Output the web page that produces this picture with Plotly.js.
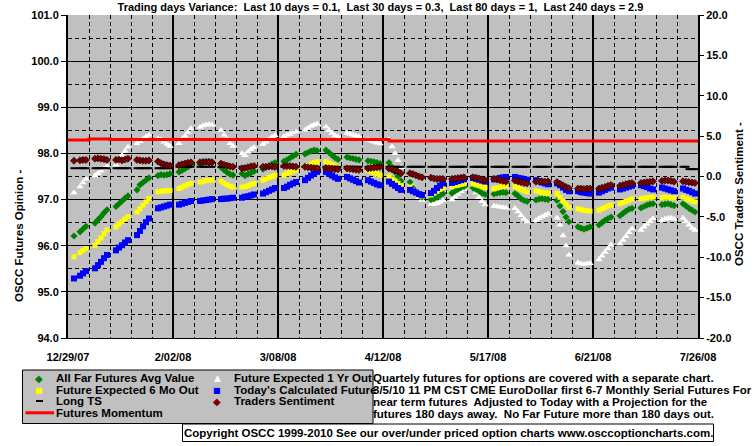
<!DOCTYPE html>
<html><head><meta charset="utf-8">
<script src="https://cdn.plot.ly/plotly-3.0.1.min.js"></script>
<style>html,body{margin:0;padding:0;background:#fff;}#chart{width:755px;height:446px;}</style>
</head><body><div id="chart"></div>
<script>
// ---------- DATA (one value per trading day, Mon..Fri, 30 weeks from 12/31/07) ----------
const firstMonday = '2007-12-31';
const weeks = 30;

const allFarAvg = [
 96.21,null,96.30,96.36,96.42,
 96.49,96.56,96.63,96.71,96.78,
 96.85,96.91,96.97,97.03,97.08,
 97.21,97.32,97.37,97.42,97.47,
 97.52,97.54,97.53,97.54,97.56,
 97.60,97.63,97.67,97.71,97.75,
 97.77,97.80,97.82,97.83,97.81,
 97.70,97.64,97.59,97.55,97.53,
 97.56,97.52,97.55,97.58,97.61,
 97.66,97.70,97.73,97.77,97.80,
 97.83,97.86,97.90,97.94,97.98,
 97.99,98.02,98.05,98.07,98.06,
 98.07,98.02,97.96,97.91,97.87,
 97.92,97.90,97.89,97.87,97.86,
 97.84,97.83,97.82,97.80,97.78,
 97.80,97.70,97.60,97.50,97.40,
 97.38,97.25,97.16,97.10,97.05,
 97.00,97.02,97.05,97.09,97.13,
 97.14,97.18,97.22,97.26,97.28,
 97.25,97.22,97.18,97.14,97.11,
 97.12,97.14,97.15,97.16,97.15,
 97.13,97.08,97.02,96.98,96.96,
 96.99,97.01,97.02,97.01,97.00,
 96.98,96.86,96.74,96.62,96.52,
 96.41,96.38,96.36,96.38,96.41,
 96.45,96.50,96.55,96.59,96.62,
 96.65,96.70,96.75,96.79,96.81,
 96.82,96.85,96.88,96.90,96.91,
 96.89,96.90,96.91,96.89,96.87,
 96.91,96.86,96.81,96.77,96.73
];
const expected6Mo = [
 95.76,null,95.85,95.90,95.94,
 96.01,96.09,96.17,96.26,96.34,
 96.41,96.47,96.52,96.58,96.63,
 96.73,96.80,96.88,96.95,97.02,
 97.17,97.18,97.19,97.19,97.20,
 97.24,97.27,97.30,97.33,97.35,
 97.38,97.39,97.41,97.42,97.42,
 97.40,97.36,97.32,97.29,97.27,
 97.27,97.28,97.30,97.33,97.35,
 97.42,97.45,97.48,97.50,97.53,
 97.53,97.56,97.59,97.62,97.64,
 97.71,97.74,97.77,97.80,97.82,
 97.82,97.79,97.76,97.73,97.70,
 97.67,97.66,97.65,97.65,97.64,
 97.64,97.61,97.58,97.55,97.53,
 97.50,97.45,97.40,97.35,97.30,
 97.27,97.20,97.14,97.10,97.08,
 97.10,97.14,97.18,97.22,97.25,
 97.28,97.30,97.31,97.33,97.34,
 97.34,97.32,97.30,97.28,97.26,
 97.23,97.25,97.27,97.28,97.29,
 97.28,97.25,97.22,97.19,97.17,
 97.19,97.17,97.15,97.14,97.14,
 97.13,97.05,96.97,96.90,96.83,
 96.80,96.78,96.77,96.76,96.75,
 96.77,96.80,96.83,96.86,96.88,
 96.91,96.94,96.96,96.99,97.01,
 97.02,97.03,97.04,97.05,97.05,
 97.04,97.05,97.05,97.04,97.04,
 97.05,97.02,97.00,96.97,96.95
];
const expected1Yr = [
 97.15,null,97.28,97.37,97.45,
 97.52,97.57,97.62,97.67,97.72,
 97.75,97.85,97.96,98.05,98.14,
 98.22,98.26,98.31,98.36,98.40,
 98.32,98.30,98.25,98.20,98.16,
 98.22,98.30,98.38,98.46,98.54,
 98.57,98.60,98.62,98.63,98.62,
 98.50,98.40,98.30,98.22,98.16,
 98.00,97.96,98.03,98.09,98.13,
 98.20,98.25,98.30,98.35,98.39,
 98.37,98.40,98.42,98.45,98.47,
 98.51,98.55,98.59,98.62,98.64,
 98.58,98.50,98.44,98.39,98.36,
 98.44,98.42,98.40,98.38,98.36,
 98.29,98.27,98.25,98.23,98.21,
 98.30,98.15,98.00,97.85,97.70,
 97.40,97.28,97.15,97.05,96.99,
 96.90,96.90,96.92,96.95,96.98,
 97.00,97.06,97.12,97.18,97.22,
 97.24,97.15,97.05,96.96,96.89,
 96.86,96.85,96.84,96.83,96.82,
 96.81,96.74,96.66,96.58,96.52,
 96.55,96.59,96.63,96.66,96.69,
 96.60,96.45,96.22,96.00,95.80,
 95.63,95.61,95.60,95.61,95.62,
 95.70,95.78,95.86,95.94,96.02,
 96.04,96.12,96.20,96.29,96.37,
 96.34,96.41,96.47,96.53,96.59,
 96.55,96.58,96.60,96.60,96.58,
 96.60,96.52,96.45,96.38,96.34
];
const todaysCalc = [
 95.29,null,95.35,95.40,95.45,
 95.51,95.58,95.65,95.73,95.80,
 95.90,95.96,96.01,96.07,96.12,
 96.23,96.32,96.42,96.51,96.59,
 96.81,96.83,96.85,96.87,96.89,
 96.89,96.91,96.93,96.95,96.97,
 96.97,96.98,96.99,97.00,97.01,
 97.01,97.02,97.02,97.03,97.04,
 97.04,97.06,97.07,97.09,97.11,
 97.13,97.16,97.19,97.22,97.25,
 97.25,97.28,97.32,97.35,97.38,
 97.42,97.47,97.52,97.56,97.60,
 97.60,97.56,97.52,97.48,97.45,
 97.49,97.46,97.43,97.40,97.37,
 97.42,97.39,97.36,97.33,97.31,
 97.39,97.34,97.30,97.25,97.21,
 97.21,97.18,97.15,97.12,97.10,
 97.14,97.19,97.25,97.30,97.35,
 97.36,97.38,97.40,97.42,97.44,
 97.47,97.45,97.43,97.41,97.39,
 97.44,97.45,97.47,97.48,97.49,
 97.49,97.47,97.46,97.44,97.43,
 97.42,97.40,97.37,97.35,97.33,
 97.35,97.31,97.26,97.21,97.18,
 97.18,97.16,97.15,97.14,97.13,
 97.15,97.18,97.21,97.24,97.26,
 97.22,97.24,97.26,97.28,97.30,
 97.31,97.29,97.27,97.24,97.22,
 97.26,97.24,97.22,97.20,97.18,
 97.24,97.21,97.19,97.16,97.13
];
const longTS = [
 97.68,null,97.68,97.68,97.68,
 97.68,97.68,97.68,97.68,97.68,
 97.68,97.68,97.68,97.68,97.68,
 97.68,97.68,97.68,97.68,97.68,
 97.68,97.68,97.68,97.68,97.68,
 97.71,97.71,97.71,97.71,97.71,
 97.71,97.71,97.71,97.71,97.71,
 97.71,97.71,97.71,97.71,97.71,
 97.71,97.71,97.71,97.71,97.71,
 97.71,97.71,97.71,97.71,97.71,
 97.71,97.71,97.71,97.71,97.71,
 97.71,97.71,97.71,97.71,97.71,
 97.71,97.71,97.71,97.71,97.71,
 97.71,97.71,97.71,97.71,97.71,
 97.71,97.71,97.71,97.71,97.71,
 97.71,97.71,97.71,97.71,97.71,
 97.71,97.71,97.71,97.71,97.71,
 97.71,97.71,97.71,97.71,97.71,
 97.71,97.71,97.71,97.71,97.71,
 97.71,97.71,97.71,97.71,97.71,
 97.71,97.71,97.71,97.71,97.71,
 97.71,97.71,97.71,97.71,97.71,
 97.71,97.71,97.71,97.71,97.71,
 97.71,97.71,97.71,97.71,97.71,
 97.71,97.71,97.71,97.71,97.71,
 97.71,97.71,97.71,97.71,97.71,
 97.71,97.71,97.71,97.71,97.71,
 97.71,97.71,97.71,97.71,97.71,
 97.71,97.71,97.71,97.71,97.71,
 97.71,97.71,97.66,97.66,97.66
];
const tradersSentiment = [
 1.95,null,2.00,2.05,2.05,
 2.20,2.25,2.20,2.15,2.05,
 2.05,2.10,2.00,2.10,2.20,
 2.05,2.00,1.95,1.95,2.00,
 1.85,1.65,1.50,1.40,1.35,
 1.40,1.50,1.60,1.70,1.75,
 1.75,1.80,1.80,1.75,1.75,
 1.60,1.45,1.35,1.25,1.20,
 1.00,1.05,1.15,1.25,1.30,
 1.20,1.20,1.25,1.25,1.20,
 1.30,1.30,1.30,1.25,1.20,
 1.20,1.15,1.10,1.05,1.00,
 1.05,1.00,0.95,0.90,0.90,
 1.00,0.95,0.90,0.85,0.80,
 1.00,1.05,1.10,1.15,1.20,
 1.00,0.90,0.75,0.60,0.40,
 0.40,0.30,0.15,0.00,-0.10,
 -0.15,-0.25,-0.30,-0.30,-0.30,
 -0.30,-0.25,-0.20,-0.15,-0.10,
 -0.10,-0.15,-0.25,-0.35,-0.45,
 -0.30,-0.35,-0.45,-0.55,-0.65,
 -0.50,-0.60,-0.70,-0.80,-0.85,
 -0.65,-0.60,-0.60,-0.65,-0.60,
 -0.70,-0.90,-1.10,-1.30,-1.45,
 -1.50,-1.50,-1.55,-1.50,-1.50,
 -1.50,-1.40,-1.30,-1.15,-1.05,
 -1.15,-1.05,-0.95,-0.85,-0.80,
 -0.80,-0.75,-0.70,-0.65,-0.60,
 -0.55,-0.50,-0.50,-0.55,-0.65,
 -0.60,-0.65,-0.70,-0.75,-0.80
];
const momentumDates = ['2007-12-29','2008-01-05','2008-01-12','2008-04-14','2008-07-26'];
const momentumValues = [98.29, 98.31, 98.30, 98.27, 98.27];

const xTickStart = '2007-12-29';
const leftRange = [94, 101];
const rightTickVals = [-20,-15,-10,-5,0,5,10,15,20];
const rightTickText = ['-20.0','-15.0','-10.0','-5.0','0.0','5.0','10.0','15.0','20.0'];

const titleText = 'Trading days Variance:\u00a0 Last 10 days = 0.1,\u00a0 Last 30 days = 0.3,\u00a0 Last 80 days = 1,\u00a0 Last 240 days = 2.9';
const leftAxisTitle = 'OSCC Futures Opinion -';
const rightAxisTitle = 'OSCC Traders Sentiment -';
const noteLines = [
 'Quartely futures for options are covered with a separate chart.',
 '3/5/10 11 PM CST CME EuroDollar first 6-7 Monthly Serial Futures For',
 'near term futures\u00a0 Adjusted to Today with a Projection for the',
 'futures 180 days away.\u00a0 No Far Future more than 180 days out.'
];
const copyrightText = 'Copyright OSCC 1999-2010 See our over/under priced option charts www.osccoptioncharts.com.';

// ---------- trading-day dates ----------
const DAY = 86400000;
const dates = [];
{
  const d0 = Date.parse(firstMonday + 'T00:00:00Z');
  for (let w = 0; w < weeks; w++) for (let k = 0; k < 5; k++)
    dates.push(new Date(d0 + (w * 7 + k) * DAY).toISOString().slice(0, 10));
}

// ---------- geometry helpers (pixel -> paper) ----------
const W = 755, H = 446, L = 68, R = 698, T = 15, B = 338;
const px = x => (x - L) / (R - L);
const py = y => (B - y) / (B - T);
const FONT = 'Liberation Sans, Arial, sans-serif';
const bold = (size, color) => ({family: FONT, size: size, color: color || '#000', weight: 700});

const traces = [
  {x: dates, y: expected1Yr, type: 'scatter', mode: 'markers', name: 'Future Expected 1 Yr Out',
   marker: {symbol: 'triangle-up', size: 6.5, color: '#FFFFFF'}},
  {x: dates, y: allFarAvg, type: 'scatter', mode: 'markers', name: 'All Far Futures Avg Value',
   marker: {symbol: 'diamond', size: 5.5, color: '#008000'}},
  {x: dates, y: expected6Mo, type: 'scatter', mode: 'markers', name: 'Future Expected 6 Mo Out',
   marker: {symbol: 'square', size: 5, color: '#FFFF00'}},
  {x: dates, y: todaysCalc, type: 'scatter', mode: 'markers', name: "Today's Calculated Future",
   marker: {symbol: 'square', size: 6, color: '#0000FF'}},
  {x: dates, y: longTS, type: 'scatter', mode: 'markers', name: 'Long TS',
   marker: {symbol: 'line-ew', size: 5, line: {color: '#000', width: 2}}},
  {x: dates, y: tradersSentiment, type: 'scatter', mode: 'markers', name: 'Traders Sentiment', yaxis: 'y2',
   marker: {symbol: 'diamond', size: 5.5, color: '#800000', line: {color: '#000', width: 0.6}}},
  {x: momentumDates, y: momentumValues, type: 'scatter', mode: 'lines', name: 'Futures Momentum',
   line: {color: '#FF0000', width: 3, shape: 'hv'}}
];

const ann = [];
const addText = (text, x, y, size, anchor, extra) => ann.push(Object.assign({
  text: text, xref: 'paper', yref: 'paper', x: px(x), y: py(y), xanchor: anchor || 'left', yanchor: 'middle',
  showarrow: false, borderpad: 0, font: bold(size)}, extra || {}));

addText(leftAxisTitle, 19.5, 236.5, 11.5, 'center', {textangle: -90});
addText(rightAxisTitle, 739, 194, 11.5, 'center', {textangle: -90});

// legend texts
addText('All Far Futures Avg Value', 55, 378.3, 11.5);
addText('Future Expected 6 Mo Out', 55, 390.3, 11.5);
addText('Long TS', 55, 401, 11.5);
addText('Futures Momentum', 55, 412.8, 11.5);
addText('Future Expected 1 Yr Out', 232.5, 378.3, 11.5);
addText("Today's Calculated Future", 232.5, 390.3, 11.5);
addText('Traders Sentiment', 232.5, 401, 11.5);
// legend symbols
const sym = (ch, color, x, y, size) => ann.push({text: ch, xref: 'paper', yref: 'paper', x: px(x), y: py(y),
  xanchor: 'center', yanchor: 'middle', showarrow: false, borderpad: 0,
  font: {family: 'DejaVu Sans', size: size, color: color}});
sym('\u25C6', '#008000', 39.3, 378.3, 10);
sym('\u25A0', '#FFFF00', 39.3, 390.3, 8);
sym('\u25B2', '#FFFFFF', 217.3, 377.8, 9);
sym('\u25A0', '#0000FF', 217.3, 390.3, 8);
sym('\u25C6', '#800000', 217.3, 401, 10);

// note lines
const noteY = [377.5, 389.5, 401.7, 414];
noteLines.forEach((t, i) => addText(t, 372, noteY[i], 11.5));
addText(copyrightText, 448, 432.5, 11.5, 'center');

const shapes = [
  {type: 'rect', xref: 'paper', yref: 'paper', x0: px(22.5), x1: px(373), y0: py(370), y1: py(423.5),
   fillcolor: '#C0C0C0', line: {color: '#000', width: 1}, layer: 'below'},
  {type: 'rect', xref: 'paper', yref: 'paper', x0: px(182.5), x1: px(713.5), y0: py(424), y1: py(441.5),
   fillcolor: '#FFFFFF', line: {color: '#000', width: 1}, layer: 'below'},
  {type: 'line', xref: 'paper', yref: 'paper', x0: px(25.5), x1: px(54), y0: py(412.8), y1: py(412.8),
   line: {color: '#FF0000', width: 3}},
  {type: 'line', xref: 'paper', yref: 'paper', x0: px(36), x1: px(43), y0: py(401), y1: py(401),
   line: {color: '#000', width: 2}}
];

const layout = {
  width: W, height: H,
  margin: {l: L, r: W - R, t: T, b: H - B, pad: 0},
  paper_bgcolor: '#FFFFFF', plot_bgcolor: '#C0C0C0',
  showlegend: false,
  title: {text: titleText, x: 380.5 / W, xanchor: 'center', xref: 'container',
          y: 1 - 7 / H, yanchor: 'middle', yref: 'container', font: bold(11)},
  font: bold(11),
  xaxis: {
    type: 'date', range: ['2007-12-29', '2008-07-26'],
    tick0: xTickStart, dtick: 35 * DAY, tickformat: '%-m/%d/%y',
    showgrid: true, gridcolor: '#000', gridwidth: 2,
    minor: {tick0: xTickStart, dtick: 7 * DAY, showgrid: true, gridcolor: '#000', gridwidth: 1, griddash: '4px,3px'},
    ticks: 'outside', ticklen: 9, tickcolor: 'rgba(0,0,0,0)',
    showline: true, linecolor: '#000', linewidth: 1, zeroline: false,
    tickfont: bold(11), fixedrange: true
  },
  yaxis: {
    range: leftRange, dtick: 1, tick0: 94, tickformat: '.1f',
    showgrid: true, gridcolor: '#000', gridwidth: 1,
    minor: {dtick: 0.5, showgrid: true, gridcolor: '#000', gridwidth: 1, griddash: '4px,3px'},
    ticks: 'outside', ticklen: 5, tickcolor: '#000', tickwidth: 1,
    showline: true, linecolor: '#000', linewidth: 2, zeroline: false,
    tickfont: bold(11)
  },
  yaxis2: {
    overlaying: 'y', side: 'right', range: [-20, 20],
    tickmode: 'array', tickvals: rightTickVals, ticktext: rightTickText,
    showgrid: false, ticks: 'outside', ticklen: 4, tickcolor: '#000',
    showline: true, linecolor: '#000', linewidth: 2, zeroline: false,
    tickfont: bold(11)
  },
  annotations: ann,
  shapes: shapes
};

Plotly.newPlot('chart', traces, layout, {staticPlot: true, displayModeBar: false});
</script>
</body></html>
